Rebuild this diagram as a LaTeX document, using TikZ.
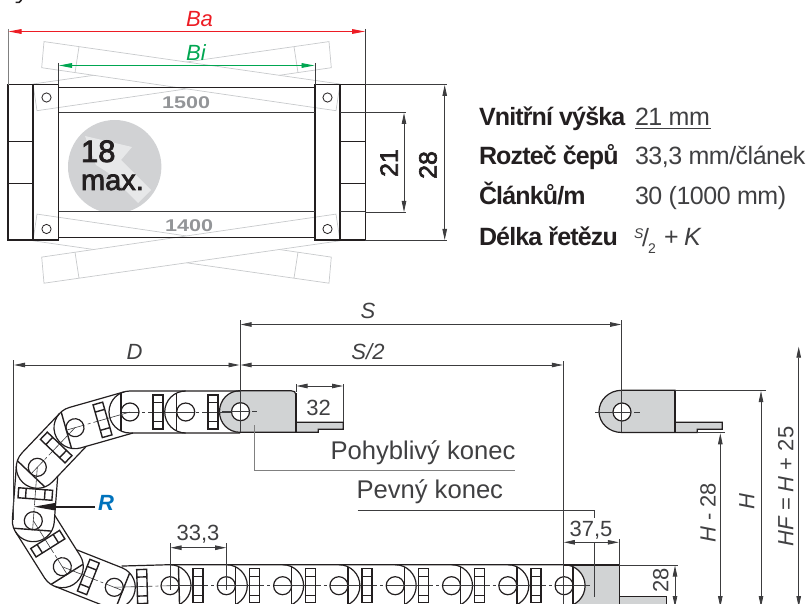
\documentclass[tikz,border=0pt]{standalone}
\usepackage{fontspec}
\usepackage{graphicx}
\setmainfont{Liberation Sans}
\newfontfamily\medf[FakeBold=2.5]{Liberation Sans}
\newfontfamily\tabb[LetterSpace=-3.4]{Liberation Sans}
\newfontfamily\tabr[LetterSpace=-2]{Liberation Sans}
\usetikzlibrary{arrows.meta}
\definecolor{ink}{HTML}{231F20}
\definecolor{dimc}{HTML}{3C3C3E}
\definecolor{ltxt}{HTML}{404042}
\definecolor{linkc}{HTML}{C8CACC}
\definecolor{plate}{HTML}{D1D3D4}
\definecolor{disc}{HTML}{D1D2D4}
\definecolor{discl}{HTML}{E7E8E9}
\definecolor{numg}{HTML}{939598}
\definecolor{redc}{HTML}{ED1C24}
\definecolor{greenc}{HTML}{00A651}
\definecolor{bluec}{HTML}{0072BC}
\newcommand\fsz[1]{\fontsize{#1}{#1}\selectfont}
\tikzset{
  frameln/.style={draw=ink,line width=1.2},
  thinln/.style={draw=dimc,line width=.8},
  extln/.style={draw=dimc,line width=.7},
  ghost/.style={draw=linkc,line width=.7,fill=white},
  dimline/.style={draw=dimc,line width=.8,{Triangle[length=11pt,width=4.5pt]}-{Triangle[length=11pt,width=4.5pt]}},
  redline/.style={draw=redc,line width=.9,{Triangle[length=13pt,width=4.7pt]}-{Triangle[length=13pt,width=4.7pt]}},
  greenline/.style={draw=greenc,line width=.9,{Triangle[length=13pt,width=4.7pt]}-{Triangle[length=13pt,width=4.7pt]}},
  chainln/.style={draw=ink,line width=1.2},
  slotln/.style={draw=ink,line width=1.4},
  centerln/.style={draw=dimc,line width=.6},
  txt/.style={inner sep=0,outer sep=0,anchor=base west,text=ink},
  mid/.style={inner sep=0,outer sep=0,anchor=base,text=ltxt},
  rot/.style={inner sep=0,outer sep=0,anchor=center,rotate=90,text=ltxt},
}
% one chain link: its hole at (#1,#2), running in direction #3 from the hole #4 behind; #5 trims the inner side
\newcommand\ChainLink[5]{%
  \begin{scope}[shift={(#1,#2)},rotate=-#3]
    \pgfmathsetmacro\lstart{-#4}
    \pgfmathsetmacro\lmid{-#4/2}
    \pgfmathsetmacro\ltrim{-#4+#5}
    \pgfmathsetmacro\sl{\lmid-5}
    \pgfmathsetmacro\sr{\lmid+5}
    \pgfmathsetmacro\ca{-#4+38}
    \pgfmathsetmacro\cb{-#4+41}
    \pgfmathsetmacro\cc{-#4+44}
    \draw[centerln] (\lstart,0) -- (\ca,0) (\cb,0) -- (\cc,0) (-9,0) -- (9,0);
    \draw[chainln] (\ltrim,-21) -- (0,-21) .. controls (11.6,-21) and (21,-11.6) .. (21,0)
       .. controls (21,11.6) and (11.6,21) .. (0,21) -- (\lstart,21);
    \draw[slotln] (9,-19) -- (9,19);
    \draw[slotln] (\sl,-17) rectangle (\sr,17) (\sl,-9.5) -- (\sr,-9.5) (\sl,9.5) -- (\sr,9.5);
    \draw[chainln] (0,0) circle[radius=9];
  \end{scope}}
\begin{document}
\begin{tikzpicture}[x=1pt,y=-1pt]
\useasboundingbox (0,0) rectangle (811,604);
\clip (0,0) rectangle (811,604);
% clipped descender of the heading
\draw[draw=ink,line width=1.6] (15.5,2.4) -- (19,2.4) -- (21.5,0);
% ---- cross section: ghost links
\draw[ghost] (329,41.6) -- (33,84) -- (37,110.7) -- (331.3,67.7) -- cycle (294,46.7) -- (298,72.7);
\draw[ghost] (44,41.6) -- (340,84) -- (336,110.7) -- (41.7,67.7) -- cycle (79,46.7) -- (75,72.7);
\draw[ghost] (329,283.2) -- (33,240.8) -- (37,214.1) -- (331.3,257.1) -- cycle (294,278.1) -- (298,252.1);
\draw[ghost] (44,283.2) -- (340,240.8) -- (336,214.1) -- (41.7,257.1) -- cycle (79,278.1) -- (75,252.1);
% disc
\begin{scope}
  \clip (50,100) rectangle (180,212);
  \fill[disc] (114.7,166.7) circle[radius=46.7];
  \fill[discl] (85,136) -- (132,147) -- (121,160) -- (151,190) -- (138,203) -- (107,172) -- (96,165) -- cycle;
\end{scope}
% frame
\draw[frameln] (8,84.7) rectangle (33,240) (8,141.3) -- (33,141.3) (8,183.3) -- (33,183.3);
\draw[frameln] (33,84.7) rectangle (58.5,240);
\draw[frameln] (315,84.7) rectangle (340,240);
\draw[frameln] (340,84.7) rectangle (365.3,240) (340,141.3) -- (365.3,141.3) (340,183.3) -- (365.3,183.3);
\draw[draw=ink,line width=1.7] (33,84.7) -- (33,240) (340,84.7) -- (340,240);
\draw[frameln] (58.5,87.3) -- (315,87.3) (58.5,237.7) -- (315,237.7);
\draw[thinln,line width=1] (58.5,112.7) -- (315,112.7) (58.5,212) -- (315,212) (340,112.7) -- (365.3,112.7) (340,212) -- (365.3,212);
\foreach \cx/\cy in {46.5/97.5,46.5/229,327.5/97.5,327.5/229}
  \draw[draw=ink,line width=.8] (\cx,\cy) circle[radius=4.6];
\node[txt,text=numg,font=\bfseries\fsz{17}] (n1500) at (162,108.3) {\scalebox{1.27}[1]{1500}};
\node[txt,text=numg,font=\bfseries\fsz{17}] (n1400) at (165,231.7) {\scalebox{1.27}[1]{1400}};
\node[txt,font=\medf\fsz{31}] (n18) at (81,162) {18};
\node[txt,font=\medf\fsz{29}] (nmax) at (81,190) {max.};
% top dims
\draw[extln,draw=gray] (8,29) -- (8,84.7);
\draw[extln] (365.3,29) -- (365.3,84.7) (58.5,63) -- (58.5,84.7) (315,63) -- (315,84.7);
\draw[redline] (8.5,31.5) -- (365,31.5);
\draw[greenline] (59,65.5) -- (314.5,65.5);
\node[mid,text=redc,font=\itshape\fsz{22}] (nBa) at (199.5,27) {Ba};
\node[mid,text=greenc,font=\itshape\fsz{22}] (nBi) at (196,60.5) {Bi};
\draw[extln] (365.3,112.7) -- (405.5,112.7) (365.3,212) -- (405.5,212) (365.3,84.7) -- (446.5,84.7) (365.3,240) -- (446.5,240);
\draw[dimline] (404,113) -- (404,212);
\draw[dimline] (444.7,85) -- (444.7,240);
\node[rot,text=ink,font=\medf\fsz{25}] (n21) at (389,163) {21};
\node[rot,text=ink,font=\medf\fsz{25}] (n28) at (428,165) {28};
% ---- spec table
\node[txt,font=\tabb\bfseries\fsz{25}] (t1) at (479,126) {Vnitřní výška};
\node[txt,text=ltxt,font=\tabr\fsz{25}] (v1) at (635,126) {21 mm};
\draw[draw=ltxt,line width=.8] (635,128.7) -- (710.7,128.7);
\node[txt,font=\tabb\bfseries\fsz{25}] (t2) at (479,165) {Rozteč čepů};
\node[txt,text=ltxt,font=\tabr\fsz{25}] (v2) at (635,165) {33,3 mm/článek};
\node[txt,font=\tabb\bfseries\fsz{25}] (t3) at (479,205) {Článků/m};
\node[txt,text=ltxt,font=\tabr\fsz{25}] (v3) at (635,205) {30 (1000 mm)};
\node[txt,font=\tabb\bfseries\fsz{25}] (t4) at (479,245) {Délka řetězu};
\node[txt,text=ltxt,font=\itshape\fsz{14}] (v4a) at (634,238) {S};
\node[txt,text=ltxt,font=\fsz{25}] (v4b) at (642,247) {/};
\node[txt,text=ltxt,font=\fsz{14}] (v4c) at (648,253) {2};
\node[txt,text=ltxt,font=\fsz{25}] (v4d) at (664,245) {+};
\node[txt,text=ltxt,font=\itshape\fsz{25}] (v4e) at (684,245) {K};
% ---- moving plate
\draw[chainln,fill=plate] (240,390.7) .. controls (228.4,390.7) and (219.5,400) .. (219.5,411.7)
  .. controls (219.5,423.3) and (228.4,432.3) .. (240,432.3) -- (318.3,432.3) -- (318.3,429.3)
  -- (343.3,429.3) -- (343.3,422.3) -- (296,422.3) -- (296,395) .. controls (296,392) and (294,390.7) .. (291,390.7) -- cycle;
\draw[slotln] (296,393) -- (296,432.3);
% right plate
\draw[chainln,fill=plate] (621.7,390.3) .. controls (609,390.3) and (599,400) .. (599,411.5)
  .. controls (599,423) and (609,432.5) .. (621.7,432.5) -- (697.3,432.5) -- (697.3,429.3)
  -- (722.3,429.3) -- (722.3,422.3) -- (675,422.3) -- (675,390.3) -- cycle;
\draw[slotln] (675,390.3) -- (675,432.5) -- (697.3,432.5);
\draw[fill=white,chainln] (622,412) circle[radius=9];
\draw[centerln] (595,412) -- (631,412) (634,412) -- (640,412);
% fixed plate
\fill[plate] (572,565) rectangle (619.3,607);
\draw[chainln,fill=plate] (619.3,596.7) rectangle (666.7,610);
\fill[white] (564.1,565) .. controls (575.7,565) and (585.1,574.1) .. (585.1,585.7) .. controls (585.1,597.3) and (575.7,606.7) .. (564.1,606.7) -- cycle;
\draw[slotln] (619.3,565) -- (619.3,607);
% ---- chain
\ChainLink{185.7}{412}{180}{54.3}{0}
\ChainLink{130}{412}{180}{55.7}{0}
\ChainLink{75}{427.7}{164.1}{57.2}{2.9}
\ChainLink{37.3}{467.3}{133.6}{54.7}{5.7}
\ChainLink{33.3}{520.7}{94.3}{53.5}{7.5}
\ChainLink{62.3}{566.7}{57.8}{54.4}{6.9}
\ChainLink{114.3}{587.3}{21.6}{55.9}{6.9}
\ChainLink{170}{585.7}{-1.6}{55.7}{8}
\foreach \cx in {226.3,282.6,338.9,395.2,451.5,507.8,564.1}
  \ChainLink{\cx}{585.7}{0}{56.3}{0};
\draw[chainln] (564.1,565) -- (619.3,565);
\draw[chainln] (564.1,606.7) -- (619.3,606.7);
\draw[centerln] (573,585.7) -- (590,585.7);
% moving plate hole
\draw[chainln,fill=white] (240.5,411.7) circle[radius=9];
\draw[centerln] (222,411.7) -- (249.5,411.7) (252,411.7) -- (257,411.7);
% ---- lower dims
\draw[extln] (240,320) -- (240,432) (621.7,320) -- (621.7,432);
\draw[extln] (13.7,360) -- (13.7,520);
\draw[extln] (563.3,361) -- (563.3,604);
\draw[dimline] (240.5,324.5) -- (621.2,324.5);
\draw[dimline] (240.5,365) -- (562.8,365);
\draw[dimline] (14,365) -- (239.5,365);
\node[mid,font=\itshape\fsz{22}] (nS) at (368,318) {S};
\node[mid,font=\itshape\fsz{22}] (nS2) at (368,359) {S/2};
\node[mid,font=\itshape\fsz{22}] (nD) at (134.5,359) {D};
% 32
\draw[extln] (296,384) -- (296,392) (343.3,384) -- (343.3,422);
\draw[dimline] (296.5,386) -- (343,386);
\node[mid,font=\fsz{22}] (n32) at (318.5,415.5) {32};
% labels with leaders
\draw[thinln,draw=gray] (254.5,425) -- (254.5,470) -- (515,470);
\node[txt,text=ltxt,font=\fsz{25.6}] (nPoh) at (330.5,459) {Pohyblivý konec};
\draw[thinln] (357.7,510) -- (594.3,510) -- (594.3,518) (594.3,542) -- (594.3,597);
\node[txt,text=ltxt,font=\fsz{25.6}] (nPev) at (356.5,498) {Pevný konec};
% R
\draw[draw=ink,line width=2,-{Triangle[length=22pt,width=7pt]}] (95,506.7) -- (33.3,506.7);
\node[txt,text=bluec,font=\bfseries\itshape\fsz{22}] (nR) at (98,510.5) {R};
% 33,3
\draw[extln] (170,543) -- (170,590) (226.7,543) -- (226.7,590);
\draw[dimline] (170.5,547.7) -- (226.2,547.7);
\node[mid,font=\fsz{22}] (n333) at (198,540) {33,3};
% 37,5
\draw[extln] (563.3,539) -- (563.3,565) (619.3,539) -- (619.3,565);
\draw[dimline] (563.8,542.3) -- (618.8,542.3);
\node[mid,font=\fsz{22}] (n375) at (591,536) {37,5};
% 28 bottom
\draw[extln] (619.3,565) -- (678,565);
\draw[dimline] (675,565.5) -- (675,607);
\node[rot,font=\fsz{22}] (n28b) at (660.7,580) {28};
% H dims
\draw[extln] (675,390.3) -- (766,390.3) (697.3,432.8) -- (725,432.8);
\draw[dimline] (720.3,433.3) -- (720.3,607);
\draw[dimline] (761,391) -- (761,607);
\draw[dimline] (798.7,346.7) -- (798.7,607);
\node[rot,font=\fsz{22}] (nH28) at (708,513) {\itshape H\upshape{} - 28};
\node[rot,font=\itshape\fsz{22}] (nH) at (746.7,502) {H};
\node[rot,font=\fsz{22}] (nHF) at (785.7,486.5) {\itshape HF\upshape{} = \itshape H\upshape{} + 25};
\end{tikzpicture}
\end{document}
